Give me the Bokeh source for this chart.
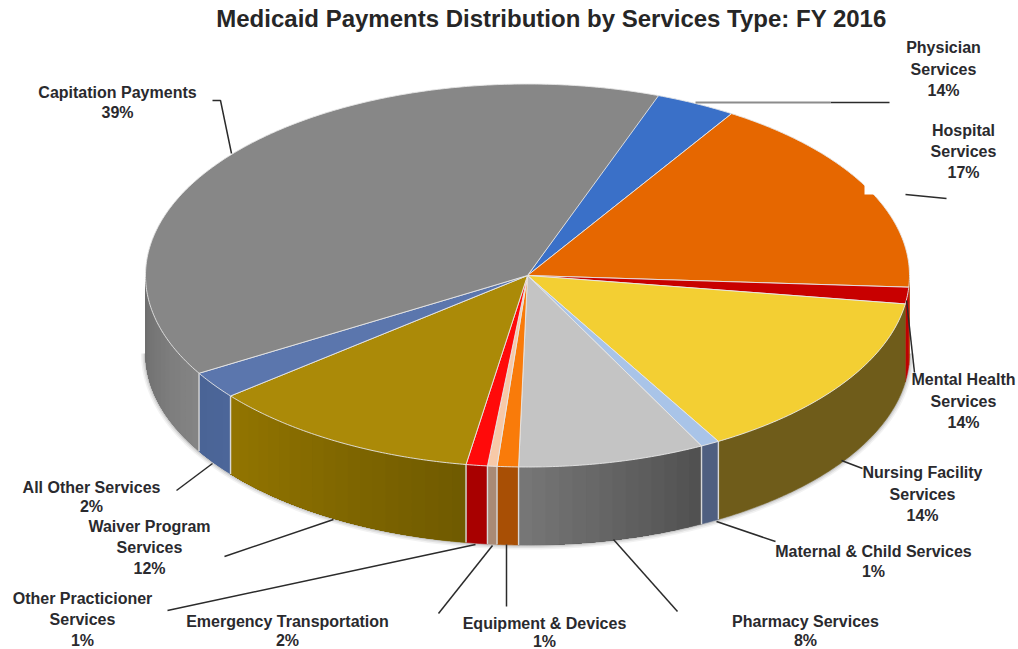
import math

from bokeh.core.properties import value
from bokeh.embed import file_html
from bokeh.models import Range1d
from bokeh.plotting import figure
from bokeh.resources import INLINE

# Services clockwise from the top of the pie, with the share each wedge occupies
services = ["Physician Services", "Hospital Services", "Mental Health Services",
            "Nursing Facility Services", "Maternal & Child Services", "Pharmacy Services",
            "Equipment & Devices", "Emergency Transportation", "Other Practicioner Services",
            "Waiver Program Services", "All Other Services", "Capitation Payments"]
wedge_shares = [3.5, 17.0, 1.4, 14.3, 0.8, 7.9, 0.9, 0.4, 0.9, 11.6, 2.3, 39.1]
printed_labels = [["Physician", "Services", "14%"],
                  ["Hospital", "Services", "17%"],
                  ["Mental Health", "Services", "14%"],
                  ["Nursing Facility", "Services", "14%"],
                  ["Maternal & Child Services", "1%"],
                  ["Pharmacy Services", "8%"],
                  ["Equipment & Devices", "1%"],
                  ["Emergency Transportation", "2%"],
                  ["Other Practicioner", "Services", "1%"],
                  ["Waiver Program", "Services", "12%"],
                  ["All Other Services", "2%"],
                  ["Capitation Payments", "39%"]]
top_colors = ["#3a70c8", "#e66700", "#c80000", "#f3cf33", "#a9c4e8", "#c4c4c4",
              "#f97b0a", "#f7c9a8", "#ff0a0a", "#ab8a08", "#5b76ad", "#878787"]
wall_start = ["#2a5090", "#a84a00", "#c00000", "#6f5c1a", "#4f5f80", "#505050",
              "#a84f05", "#a98a75", "#a80000", "#6f5a00", "#4c6699", "#858585"]
wall_end = ["#2a5090", "#a84a00", "#c00000", "#6f5c1a", "#4f5f80", "#777777",
            "#a84f05", "#a98a75", "#a80000", "#937500", "#4a6496", "#6c6c6c"]

# Label placement: centre x and the y of each text line
label_x = [943, 963, 963, 922, 873, 805, 544, 287, 82, 149, 91, 117]
label_y = [[47, 69, 90], [130, 151, 172], [379, 401, 422], [472, 494, 515], [551, 571],
           [621, 640], [623, 641], [621, 640], [598, 619, 640], [526, 547, 568],
           [487, 506], [92, 112]]

# Leader lines running from the labels to the pie
leaders = [([830, 889], [102, 102]), ([905, 946], [194, 198]), ([906, 914], [300, 372]),
           ([841, 862], [460, 468]), ([716, 775], [521, 541]), ([613, 677], [539, 611]),
           ([506, 506], [544, 606]), ([492, 438], [545, 613]), ([475, 167], [544, 610]),
           ([333, 224], [519, 556]), ([212, 176], [463, 490]), ([212, 220, 231], [100, 100, 153])]

CX, CY, RX, RY, DEPTH = 527, 275, 382, 191.5, 78
START_ANGLE = 70.3


def rim(t, drop=0):
    a = math.radians(t)
    return CX + RX * math.cos(a), CY - RY * math.sin(a) + drop


def arc(t0, t1, drop=0, step=1.0):
    n = max(2, int(abs(t0 - t1) / step) + 1)
    pts = [rim(t0 + (t1 - t0) * i / (n - 1), drop) for i in range(n)]
    return [q[0] for q in pts], [q[1] for q in pts]


def blend(c0, c1, f):
    v0 = [int(c0[i:i + 2], 16) for i in (1, 3, 5)]
    v1 = [int(c1[i:i + 2], 16) for i in (1, 3, 5)]
    return "#%02x%02x%02x" % tuple(round(a + (b - a) * f) for a, b in zip(v0, v1))


p = figure(width=1018, height=649, output_backend="svg", toolbar_location=None,
           x_range=Range1d(0, 1018), y_range=Range1d(649, 0),
           x_axis_type=None, y_axis_type=None, min_border=0,
           outline_line_color=None, background_fill_color="white")
p.grid.visible = False

# Cumulative wedge boundaries, clockwise
bounds = [START_ANGLE]
for share in wedge_shares:
    bounds.append(bounds[-1] - share * 3.6)

# Soft shadow beneath the drum
sx, sy = arc(0, -180, DEPTH)
for w, a in ((9, 0.05), (6, 0.07), (3, 0.10)):
    p.line(sx, sy, line_color="#000000", line_width=w, line_alpha=a)

# Side walls: a solid base per wedge, then overlapping strips where the shade varies
base_x, base_y, base_c = [], [], []
xs, ys, cols = [], [], []
separators = []
for i in range(len(wedge_shares)):
    hi = min(bounds[i], 0)
    lo = max(bounds[i + 1], -180)
    if -180 < bounds[i + 1] < 0:
        separators.append(bounds[i + 1])
    if hi <= lo:
        continue
    tx, ty = arc(hi, lo, step=0.5)
    bx, by = arc(lo, hi, DEPTH, step=0.5)
    base_x.append(tx + bx)
    base_y.append(ty + by)
    base_c.append(blend(wall_start[i], wall_end[i], 0.5))
    if wall_start[i] == wall_end[i]:
        continue
    n = max(1, int((hi - lo) / 2))
    for k in range(n):
        a0 = hi + (lo - hi) * k / n
        # each strip runs on to the far end so no seam shows between neighbours
        tx, ty = arc(a0, lo, step=0.5)
        bx, by = arc(lo, a0, DEPTH, step=0.5)
        xs.append(tx + bx)
        ys.append(ty + by)
        cols.append(blend(wall_start[i], wall_end[i], (k + 0.5) / n))
p.patches(base_x, base_y, fill_color=base_c, line_color=base_c, line_width=0.6)
p.patches(xs, ys, fill_color=cols, line_color=None)
for t in separators:
    x0, y0 = rim(t)
    if t > -10:
        continue
    p.line([x0, x0], [y0, y0 + DEPTH], line_color="#d8d8d8", line_width=1.4)

# Top face wedges
xs, ys = [], []
for i in range(len(wedge_shares)):
    ax, ay = arc(bounds[i], bounds[i + 1], step=0.5)
    xs.append([CX] + ax)
    ys.append([CY] + ay)
p.patches(xs, ys, fill_color=top_colors, line_color="#e6e6e6", line_width=0.9)

# Blank panel behind the hospital label
p.quad(left=[864], right=[1018], top=[104], bottom=[194], fill_color="white", line_color=None)

# Leader lines
for lx, ly in leaders:
    p.line(lx, ly, line_color="#2b2b2b", line_width=1.5)
p.line([695, 830], [102, 102], line_color="#8c8c8c", line_width=1.8)

# Labels
tx, ty, tt = [], [], []
for x, lines, rows in zip(label_x, printed_labels, label_y):
    for line, y in zip(lines, rows):
        tx.append(x)
        ty.append(y)
        tt.append(line)
p.text(tx, ty, text=tt, text_font=value("Liberation Sans"), text_font_style="bold",
       text_font_size="16px", text_color="#2a2a2e", text_align="center", text_baseline="middle")

p.text([551], [18], text=["Medicaid Payments Distribution by Services Type: FY 2016"],
       text_font=value("Liberation Sans"), text_font_style="bold", text_font_size="24px",
       text_color="#262626", text_align="center", text_baseline="middle")

open("out.html", "w").write(file_html(p, INLINE))
